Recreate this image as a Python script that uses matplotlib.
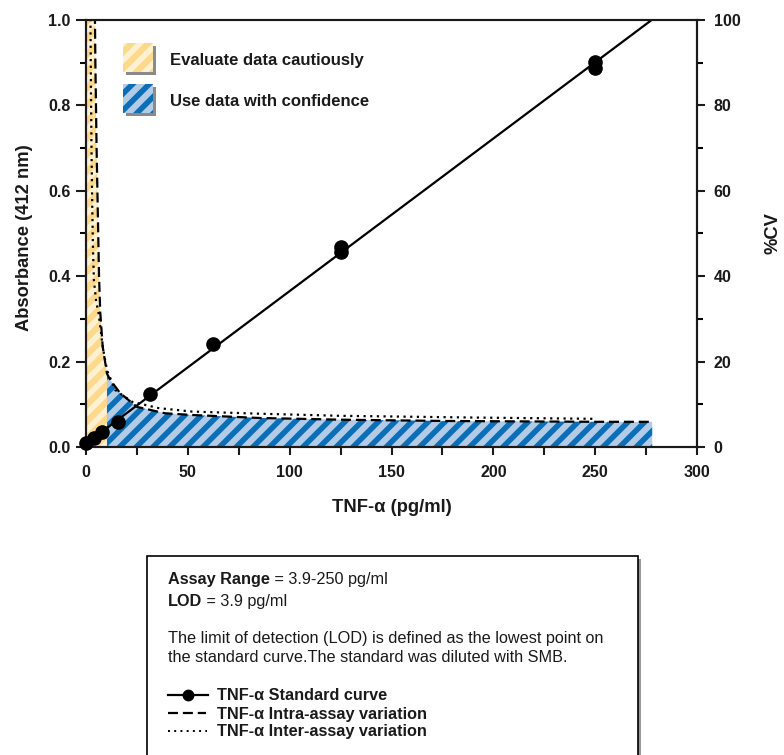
import matplotlib
matplotlib.use('Agg')
import matplotlib.pyplot as plt
from matplotlib.patches import Rectangle
from matplotlib.lines import Line2D
from matplotlib.text import Annotation
from matplotlib.ticker import MultipleLocator, FormatStrFormatter
import numpy as np

plt.rcParams['font.family'] = ['Liberation Sans', 'DejaVu Sans']
plt.rcParams['font.weight'] = 'bold'
plt.rcParams['axes.labelweight'] = 'bold'
plt.rcParams['hatch.linewidth'] = 4.0

# standard curve (absorbance)
conc = [0, 3.9, 7.8, 15.6, 31.25, 62.5, 125, 125, 250, 250]
absorb = [0.010, 0.020, 0.034, 0.059, 0.123, 0.241, 0.468, 0.457, 0.902, 0.888]
fit_x = [0, 285]
fit_y = [0.008, 1.026]

# %CV curves
intra_x = [0, 4.0, 4.4, 4.6, 4.9, 5.2, 5.6, 6.0, 6.4, 7.0, 8.2, 10.3, 11.9, 16.8,
           25, 38.8, 52, 85, 125, 175, 250, 278]
intra_cv = [300, 130, 100, 90, 80, 70, 60, 50, 40, 31.5, 23.5, 17.2, 15.7, 12.6,
            9.4, 7.9, 7.5, 6.8, 6.4, 6.1, 5.9, 5.9]
inter_x = [1.8, 2.2, 2.4, 2.7, 3.1, 3.5, 3.9, 5.0, 6.2, 8.2, 10.3, 14.4, 22.6,
           35.7, 52, 85, 125, 190, 250]
inter_cv = [130, 100, 85, 70, 55, 45, 39, 34, 31.3, 23.5, 18.0, 13.3, 10.6,
            9.1, 8.3, 7.8, 7.3, 6.9, 6.6]

cut = 10.3  # edge between "cautious" and "confident" regions

yellow_bg, yellow_st = '#FDD98B', '#FEF1D2'
blue_bg, blue_st = '#B3CBE7', '#0B6FB8'
ink = '#1a1a1a'

W, H = 784, 755
fig = plt.figure(figsize=(W / 100, H / 100), dpi=100)


def fp(x, y):
    return (x / W, 1 - y / H)


ax = fig.add_axes([86 / W, 1 - 447 / H, 611 / W, 427 / H])
ax2 = ax.twinx()
ax.set_xlim(0, 300)
ax.set_ylim(0, 100)
ax2.set_ylim(0, 1)

ax.yaxis.tick_right()
ax.yaxis.set_label_position('right')
ax2.yaxis.tick_left()
ax2.yaxis.set_label_position('left')

# shaded regions under intra-assay curve
ix = np.array(intra_x)
icv = np.array(intra_cv)
m1 = ix <= cut
m2 = ix >= cut
ax.fill_between(ix[m1], 0, icv[m1], facecolor=yellow_bg, edgecolor=yellow_st,
                hatch='//', linewidth=0)
ax.fill_between(ix[m2], 0, icv[m2], facecolor=blue_bg, edgecolor=blue_st,
                hatch='//', linewidth=0)

ax.plot(intra_x, intra_cv, color='black', lw=1.6, dashes=(4.5, 2.2))
ax.plot(inter_x, inter_cv, color='black', lw=1.6, linestyle=(0, (1, 2)))

ax2.plot(fit_x, fit_y, color='black', lw=1.6)
ax2.plot(conc, absorb, 'o', color='black', ms=9.5, clip_on=False, zorder=5)

# ticks
ax.xaxis.set_major_locator(MultipleLocator(50))
ax.xaxis.set_minor_locator(MultipleLocator(25))
ax.yaxis.set_major_locator(MultipleLocator(20))
ax.yaxis.set_minor_locator(MultipleLocator(10))
ax2.yaxis.set_major_locator(MultipleLocator(0.2))
ax2.yaxis.set_minor_locator(MultipleLocator(0.1))
ax2.yaxis.set_major_formatter(FormatStrFormatter('%.1f'))

ax.tick_params(axis='x', which='both', direction='out', length=6, width=1.5,
               labelsize=11.5, pad=7, colors=ink)
ax.tick_params(axis='y', which='major', direction='out', length=6, width=1.5,
               labelsize=11.5, pad=6, colors=ink)
ax.tick_params(axis='y', which='minor', direction='out', length=4, width=1.5)
ax2.tick_params(axis='y', which='major', direction='out', length=7, width=1.5,
                labelsize=11.5, pad=4, colors=ink)
ax2.tick_params(axis='y', which='minor', direction='out', length=4.5, width=1.5)

for a in (ax, ax2):
    for s in a.spines.values():
        s.set_linewidth(1.5)
        s.set_color(ink)

ax.set_xlabel('TNF-α (pg/ml)', fontsize=13.2, color=ink)
ax.xaxis.set_label_coords(0.5, -0.122)
ax2.set_ylabel('Absorbance (412 nm)', fontsize=13.2, color=ink)
ax2.yaxis.set_label_coords(-0.087, 0.49)
ax.set_ylabel('%CV', fontsize=13.2, color=ink)
ax.yaxis.set_label_coords(1.111, 0.5)

# legend patches (top left)
for y0, bg, st, label in [(43, yellow_bg, yellow_st, 'Evaluate data cautiously'),
                          (84, blue_bg, blue_st, 'Use data with confidence')]:
    fig.add_artist(Rectangle(fp(126, y0 + 32), 30 / W, 29 / H,
                             transform=fig.transFigure, facecolor='#8a8a8a',
                             linewidth=0))
    fig.add_artist(Rectangle(fp(123, y0 + 29), 30 / W, 29 / H,
                             transform=fig.transFigure, facecolor=bg,
                             edgecolor=st, hatch='//', linewidth=0))
    fig.text(*fp(170, y0 + 22), label, fontsize=12, color=ink, va='baseline')

# info box
fig.add_artist(Rectangle(fp(150, 770), 491 / W, 211 / H, transform=fig.transFigure,
                         facecolor='#9a9a9a', linewidth=0))
fig.add_artist(Rectangle(fp(147, 767), 491 / W, 211 / H, transform=fig.transFigure,
                         facecolor='white', edgecolor='black', linewidth=1.2))

fs = 11.7
t = fig.text(*fp(168, 584), 'Assay Range', fontsize=fs, color=ink, va='baseline')
fig.add_artist(Annotation(' = 3.9-250 pg/ml', xy=(1, 0), xycoords=t,
                          va='bottom', ha='left', fontsize=fs,
                          color=ink, fontweight='normal'))
t2 = fig.text(*fp(168, 606), 'LOD', fontsize=fs, color=ink, va='baseline')
fig.add_artist(Annotation(' = 3.9 pg/ml', xy=(1, 0), xycoords=t2,
                          va='bottom', ha='left', fontsize=fs,
                          color=ink, fontweight='normal'))
fig.text(*fp(168, 643), 'The limit of detection (LOD) is defined as the lowest point on',
         fontsize=fs, color=ink, fontweight='normal', va='baseline')
fig.text(*fp(168, 662.5), 'the standard curve.The standard was diluted with SMB.',
         fontsize=fs, color=ink, fontweight='normal', va='baseline')

# legend samples in box
yl = 1 - 695 / H
fig.add_artist(Line2D([168 / W, 208 / W], [yl, yl], transform=fig.transFigure,
                      color='black', lw=1.6))
fig.add_artist(Line2D([188 / W], [yl], transform=fig.transFigure, color='black',
                      marker='o', ms=7.5))
yl = 1 - 713 / H
fig.add_artist(Line2D([168 / W, 206 / W], [yl, yl], transform=fig.transFigure,
                      color='black', lw=1.6, dashes=(4.5, 2.2)))
yl = 1 - 731 / H
fig.add_artist(Line2D([168 / W, 207 / W], [yl, yl], transform=fig.transFigure,
                      color='black', lw=1.4, linestyle=(0, (1, 2.2))))
for yb, label in [(700, 'TNF-α Standard curve'), (719, 'TNF-α Intra-assay variation'),
                  (736, 'TNF-α Inter-assay variation')]:
    fig.text(*fp(217, yb), label, fontsize=fs, color=ink, va='baseline')

fig.savefig('out.png', dpi=100)
